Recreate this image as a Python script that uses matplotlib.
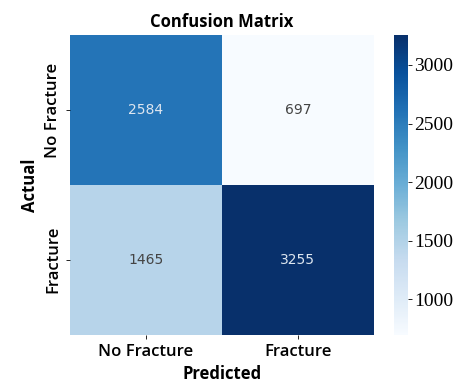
import matplotlib
matplotlib.use("Agg")
import matplotlib.pyplot as plt
import seaborn as sns
import numpy as np

labels = ["No Fracture", "Fracture"]
cm = np.array([[2584, 697],
               [1465, 3255]])

fig = plt.figure(figsize=(4.57, 3.9), dpi=100)
ax = fig.add_axes([0.153, 0.142, 0.665, 0.768])
cax = fig.add_axes([0.862, 0.142, 0.031, 0.768])

sns.heatmap(cm, annot=True, fmt="d", cmap="Blues", ax=ax, cbar_ax=cax,
            xticklabels=labels, yticklabels=labels,
            annot_kws={"fontsize": 10, "family": "DejaVu Sans"})

# soften the annotation colours a little
for t in ax.texts:
    r, g, b, _ = matplotlib.colors.to_rgba(t.get_color())
    t.set_color("#dde6f0" if r > 0.5 else "#444444")

ax.set_title("Confusion Matrix", fontsize=12, family="Open Sans", fontweight="bold", pad=6)
ax.set_xlabel("Predicted", fontsize=12, family="Open Sans", fontweight="bold")
ax.set_ylabel("Actual", fontsize=12, family="Open Sans", fontweight="bold")
for t in ax.get_xticklabels() + ax.get_yticklabels():
    t.set_family("Open Sans")
    t.set_fontsize(12)
    t.set_fontweight("semibold")
for t in cax.get_yticklabels():
    t.set_family("Liberation Serif")
    t.set_fontsize(14)
cax.tick_params(length=3, width=0.6, pad=1.5)
ax.tick_params(length=3, width=0.6)

fig.savefig("out.png", dpi=100)
